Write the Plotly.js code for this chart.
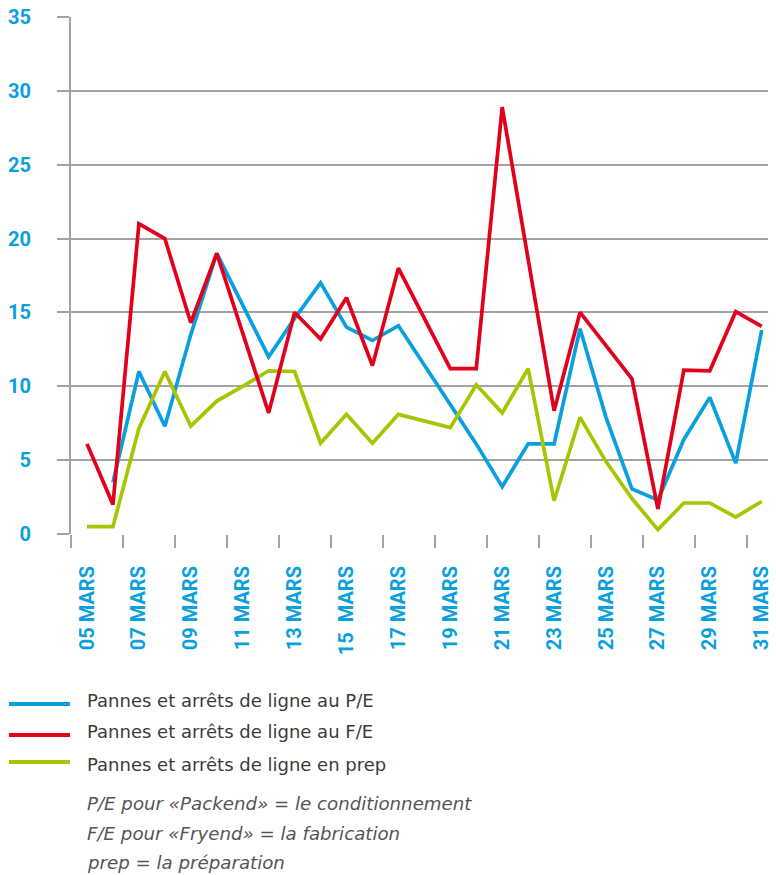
<!DOCTYPE html>
<html><head><meta charset="utf-8">
<script src="https://cdn.plot.ly/plotly-3.0.1.min.js"></script>
<style>html,body{margin:0;padding:0;background:#fff}</style>
</head><body><div id="chart" style="width:776px;height:875px"></div>
<script>
// ---- data ----
const days = [5,6,7,8,9,10,11,12,13,14,15,16,17,18,19,20,21,22,23,24,25,26,27,28,29,30,31];
const tickDays = [5,7,9,11,13,15,17,19,21,23,25,27,29,31];
const tickLabels = ['05 MARS','07 MARS','09 MARS','11 MARS','13 MARS','15\u00a0 MARS','17 MARS','19 MARS','21 MARS','23 MARS','25 MARS','27 MARS','29 MARS','31 MARS'];
const seriesNames = ['Pannes et arrêts de ligne au P/E','Pannes et arrêts de ligne au F/E','Pannes et arrêts de ligne en prep'];
const pe   = [null,3.5,11,7.3,13.5,19,15.5,12,14.6,17,14,13.1,14.1,11.4,8.75,6.1,3.2,6.1,6.1,13.9,7.9,3.05,2.3,6.4,9.25,4.8,13.8];
const fe   = [6.1,2,21,20,14.3,19,13.6,8.2,15,13.2,16,11.4,18,14.6,11.2,11.2,28.9,18.6,8.35,15,12.7,10.5,1.7,11.1,11.05,15.05,14.05];
const prep = [0.5,0.5,7.15,11,7.3,9,10,11.05,11,6.15,8.1,6.15,8.1,7.65,7.2,10.1,8.2,11.2,2.25,7.9,4.9,2.4,0.3,2.1,2.1,1.15,2.2];
const notes = ['P/E pour «Packend» = le conditionnement','F/E pour «Fryend» = la fabrication','prep = la préparation'];

// ---- styling ----
const colors = {pe:'#0a9fdf', fe:'#e2001a', prep:'#a9c400'};
const grey = '#a3a3a3';
const tickBlue = '#0a9fdf';

// layout geometry (pixels)
const W = 776, H = 875, mL = 71, mR = 8, mT = 17, mB = 341;
const plotW = W - mL - mR, plotH = H - mT - mB;
const px2x = p => (p - mL) / plotW;
const px2y = p => (H - mB - p) / plotH;

const dayPx = 25.95;               // pixels per day
const xStart = 5 - 16 / dayPx;     // left edge of plot
const xEnd = xStart + plotW / dayPx;
const minorVals = [];
for (let k = 0; k < 14; k++) minorVals.push(xStart + 0.002 + k * 52 / dayPx);

const lineTrace = (y, name, color) => ({
  x: days, y: y, name: name, type: 'scatter', mode: 'lines',
  line: {color: color, width: 3.7}, connectgaps: false, showlegend: false,
  hoverinfo: 'x+y'
});

const data = [
  lineTrace(pe, seriesNames[0], colors.pe),
  lineTrace(prep, seriesNames[2], colors.prep),
  lineTrace(fe, seriesNames[1], colors.fe)
];

const legendRows = [
  {name: seriesNames[0], color: colors.pe, lineY: 704, textY: 700},
  {name: seriesNames[1], color: colors.fe, lineY: 735, textY: 731},
  {name: seriesNames[2], color: colors.prep, lineY: 762, textY: 764}
];
const noteY = [804, 833, 862];

const shapes = legendRows.map(r => ({
  type: 'line', xref: 'paper', yref: 'paper',
  x0: px2x(9), x1: px2x(70), y0: px2y(r.lineY), y1: px2y(r.lineY),
  line: {color: r.color, width: 4}
}));

const annotations = legendRows.map(r => ({
  xref: 'paper', yref: 'paper', x: px2x(85), y: px2y(r.textY),
  xanchor: 'left', yanchor: 'middle', showarrow: false, text: r.name,
  font: {family: 'DejaVu Sans, sans-serif', size: 18, color: '#3b3b3b'}
})).concat(notes.map((t, i) => ({
  xref: 'paper', yref: 'paper', x: px2x(85), y: px2y(noteY[i]),
  xanchor: 'left', yanchor: 'middle', showarrow: false, text: t,
  font: {family: 'DejaVu Sans, sans-serif', size: 18.2, color: '#555555', style: 'italic'}
})));

const layout = {
  width: W, height: H,
  margin: {l: mL, r: mR, t: mT, b: mB, pad: 0},
  paper_bgcolor: '#ffffff', plot_bgcolor: '#ffffff',
  showlegend: false,
  xaxis: {
    type: 'linear', range: [xStart, xEnd], fixedrange: true,
    tickmode: 'array', tickvals: tickDays, ticktext: tickLabels,
    ticks: '', tickangle: -90, ticklabelstandoff: 27,
    tickfont: {family: 'Roboto, sans-serif', size: 20, color: tickBlue, weight: 'bold'},
    showgrid: false, zeroline: false, showline: false,
    minor: {tickmode: 'array', tickvals: minorVals, ticks: 'outside', ticklen: 13, tickwidth: 2, tickcolor: grey, showgrid: false}
  },
  yaxis: {
    range: [0, 35], fixedrange: true,
    tickmode: 'array', tickvals: [0,5,10,15,20,25,30,35],
    ticks: 'outside', ticklen: 12, tickwidth: 2, tickcolor: grey,
    ticklabelstandoff: 22,
    tickfont: {family: 'Roboto, sans-serif', size: 20, color: tickBlue, weight: 'bold'},
    showgrid: true, gridcolor: grey, gridwidth: 2,
    zeroline: false, showline: true, linecolor: grey, linewidth: 2
  },
  shapes: shapes,
  annotations: annotations
};

Plotly.newPlot('chart', data, layout, {displayModeBar: false, staticPlot: true});
</script>
</body></html>
